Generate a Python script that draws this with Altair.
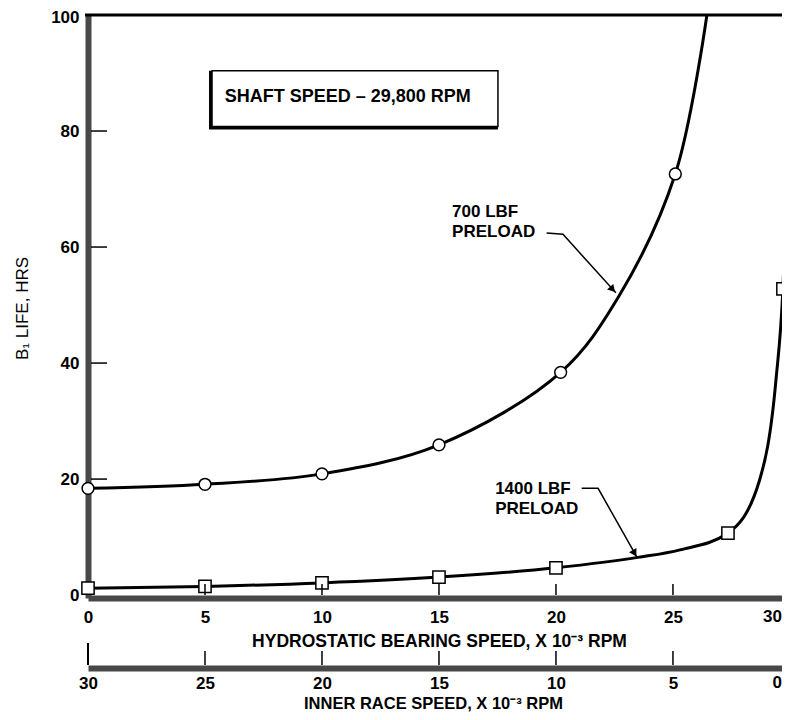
import altair as alt
import pandas as pd

FONT = "Liberation Sans"

# ---- values ----
hyd_700 = [0, 5, 10, 15, 20.2, 25.1]
life_700 = [18.4, 19.1, 20.9, 25.9, 38.4, 72.6]
curve700_x = [0, 5, 10, 15, 20.2, 22.7, 25.1, 26.45]
curve700_y = [18.4, 19.1, 20.9, 25.9, 38.4, 51.6, 72.6, 100]

hyd_1400 = [0, 5, 10, 15, 20, 27.35, 29.7]
life_1400 = [1.2, 1.5, 2.1, 3.1, 4.7, 10.7, 52.8]
curve1400_x = [0, 5, 10, 15, 20, 23.5, 25.3, 27.35, 28.7, 29.4, 29.7, 29.9]
curve1400_y = [1.2, 1.5, 2.1, 3.1, 4.7, 6.5, 7.8, 10.7, 19.8, 37, 52.8, 75]

hyd_ticks = [0, 5, 10, 15, 20, 25, 30]
inner_ticks = [30, 25, 20, 15, 10, 5, 0]
life_ticks = [0, 20, 40, 60, 80, 100]

box_x = [5.3, 17.52]
box_y = [80.8, 90.4]
box_text = "SHAFT SPEED \u2013 29,800 RPM"
box_text_pos = [11.1, 85.9]

label_text = ["700 LBF\nPRELOAD", "1400 LBF\nPRELOAD"]
label_x = [15.56, 17.4]
label_y = [67.4, 19.7]

arrow700_x = [19.6, 20.3, 22.56]
arrow700_y = [62.4, 62.2, 52.1]
arrow1400_x = [21.1, 21.8, 23.46]
arrow1400_y = [18.4, 18.4, 6.55]
head700 = [22.42, 52.7]
head1400 = [23.36, 7.2]

# ---- tables ----
c700 = pd.DataFrame({"x": curve700_x, "y": curve700_y})
c1400 = pd.DataFrame({"x": curve1400_x, "y": curve1400_y})
m700 = pd.DataFrame({"x": hyd_700, "y": life_700})
m1400 = pd.DataFrame({"x": hyd_1400, "y": life_1400})
box = pd.DataFrame({"x": [box_x[0]], "x2": [box_x[1]], "y": [box_y[0]], "y2": [box_y[1]]})
boxt = pd.DataFrame({"x": [box_text_pos[0]], "y": [box_text_pos[1]], "t": [box_text]})
labels = pd.DataFrame({"x": label_x, "y": label_y, "t": label_text})
arrows = pd.DataFrame({
    "x": arrow700_x + arrow1400_x,
    "y": arrow700_y + arrow1400_y,
    "id": ["a"] * 3 + ["b"] * 3,
    "o": [0, 1, 2] * 2,
})
h1 = pd.DataFrame({"x": [head700[0]], "y": [head700[1]]})
h2 = pd.DataFrame({"x": [head1400[0]], "y": [head1400[1]]})
yt = pd.DataFrame({"v": [v for v in life_ticks if 0 < v < 100]})
xt = pd.DataFrame({"v": [v for v in hyd_ticks if 0 < v < 30]})
top = pd.DataFrame({"v": [100]})
it_short = pd.DataFrame({"v": [v for v in inner_ticks if 0 < v < 30]})
it_long = pd.DataFrame({"v": [30]})
# the last tick label of each x axis sits right at the (cropped) right edge
edge1 = pd.DataFrame({"v": [hyd_ticks[-1]], "t": [str(hyd_ticks[-1])]})
edge2 = pd.DataFrame({"v": [inner_ticks[-1]], "t": [str(inner_ticks[-1])]})

XMAX = 29.66
xs = alt.Scale(domain=[0, XMAX], nice=False, zero=False)
ys = alt.Scale(domain=[-0.5, 100], nice=False, zero=False)
DOM = "#484848"
H = 583
OFF2 = 70

common = dict(
    ticks=False, tickSize=0, grid=False, domainWidth=6, domainColor=DOM,
    labelFont=FONT, labelFontSize=17, labelFontWeight="bold", labelColor="black",
    labelOverlap=False, labelFlush=False,
    titleFont=FONT, titleColor="black",
)

xaxis = alt.Axis(
    values=hyd_ticks, title="HYDROSTATIC BEARING SPEED, X 10\u207b\u00b3 RPM",
    labelPadding=11,
    titleFontSize=17.5, titleFontWeight="bold", titleY=43, titleBaseline="middle",
    titleX=351,
    **common,
)
yaxis = alt.Axis(
    values=life_ticks, title="B\u2081 LIFE, HRS", labelPadding=9,
    labelOffset={"condition": {"test": "datum.value == 100", "value": 2}, "value": 0},
    titleFontSize=17, titleFontWeight="normal",
    titleAngle=270, titleX=-66, titleY=293, titleAlign="center", titleBaseline="middle",
    **common,
)
x2axis = alt.Axis(
    values=inner_ticks, orient="bottom", offset=OFF2,
    title="INNER RACE SPEED, X 10\u207b\u00b3 RPM",
    labelPadding=7,
    titleFontSize=16.5, titleFontWeight="bold", titleY=35, titleBaseline="middle",
    titleX=345,
    **common,
)


def X(f):
    return alt.X(f"{f}:Q", scale=xs, axis=xaxis)


def Y(f):
    return alt.Y(f"{f}:Q", scale=ys, axis=yaxis)


shadow = alt.Chart(box).mark_rect(fill="black", xOffset=-3, yOffset=3).encode(
    x=X("x"), x2="x2", y=Y("y"), y2="y2")
boxr = alt.Chart(box).mark_rect(fill="white", stroke="black", strokeWidth=1.5).encode(
    x=X("x"), x2="x2", y=Y("y"), y2="y2")
boxtxt = alt.Chart(boxt).mark_text(font=FONT, fontSize=18, fontWeight="bold",
                                   align="center", baseline="middle", color="black").encode(
    x=X("x"), y=Y("y"), text="t:N")
lbl = alt.Chart(labels).mark_text(font=FONT, fontSize=17, fontWeight="bold", align="left",
                                  baseline="top", lineBreak="\n", lineHeight=20,
                                  color="black").encode(x=X("x"), y=Y("y"), text="t:N")
arr = alt.Chart(arrows).mark_line(color="black", strokeWidth=1.5).encode(
    x=X("x"), y=Y("y"), detail="id:N", order="o:Q")
hd1 = alt.Chart(h1).mark_point(shape="triangle-up", filled=True, size=70, color="black",
                               opacity=1, angle=138).encode(x=X("x"), y=Y("y"))
hd2 = alt.Chart(h2).mark_point(shape="triangle-up", filled=True, size=70, color="black",
                               opacity=1, angle=150).encode(x=X("x"), y=Y("y"))

l700 = alt.Chart(c700).mark_line(color="black", strokeWidth=3,
                                 interpolate="catmull-rom").encode(x=X("x"), y=Y("y"))
l1400 = alt.Chart(c1400).mark_line(color="black", strokeWidth=3,
                                   interpolate="monotone").encode(x=X("x"), y=Y("y"))
p700 = alt.Chart(m700).mark_point(shape="circle", size=140, filled=True, fill="white",
                                  stroke="black", strokeWidth=1.5, opacity=1).encode(
    x=X("x"), y=Y("y"))
p1400 = alt.Chart(m1400).mark_point(shape="square", size=150, filled=True, fill="white",
                                    stroke="black", strokeWidth=1.5, opacity=1).encode(
    x=X("x"), y=Y("y"))

ytick = alt.Chart(yt).mark_rule(color="black", strokeWidth=1.5).encode(
    y=Y("v"), x=alt.value(3), x2=alt.value(19))
xtick = alt.Chart(xt).mark_rule(color="black", strokeWidth=1.5).encode(
    x=X("v"), y=alt.value(H - 3), y2=alt.value(H - 14))
border = alt.Chart(top).mark_rule(color="black", strokeWidth=3).encode(
    y=Y("v"), x=alt.value(-3), x2=alt.value(694))
e1 = alt.Chart(edge1).mark_text(font=FONT, fontSize=17, fontWeight="bold", color="black",
                                align="right", baseline="top", dx=-8).encode(
    x=X("v"), y=alt.value(H + 11), text="t:N")

main = alt.layer(shadow, boxr, boxtxt, lbl, arr, hd1, hd2, l700, l1400, p700, p1400,
                 ytick, xtick, border, e1)


def X2(f):
    return alt.X(f"{f}:Q", scale=alt.Scale(domain=[30 - XMAX, 30], reverse=True, nice=False,
                                           zero=False), axis=x2axis)


A2 = H + OFF2
it1 = alt.Chart(it_short).mark_rule(color="black", strokeWidth=1.5).encode(
    x=X2("v"), y=alt.value(A2 - 3), y2=alt.value(A2 - 17))
it2 = alt.Chart(it_long).mark_rule(color="black", strokeWidth=2).encode(
    x=X2("v"), y=alt.value(A2 - 3), y2=alt.value(A2 - 25))
e2 = alt.Chart(edge2).mark_text(font=FONT, fontSize=17, fontWeight="bold", color="black",
                                align="right", baseline="top", dx=-8).encode(
    x=X2("v"), y=alt.value(A2 + 7), text="t:N")
second = alt.layer(it1, it2, e2)

chart = alt.layer(main, second).resolve_scale(x="independent").properties(
    width=694, height=H,
    padding={"left": 80, "top": 7, "right": 0, "bottom": 114},
    autosize=alt.AutoSizeParams(type="none"),
).configure_view(stroke=None)

chart.save("out.html", embed_options={"renderer": "svg", "actions": False})
